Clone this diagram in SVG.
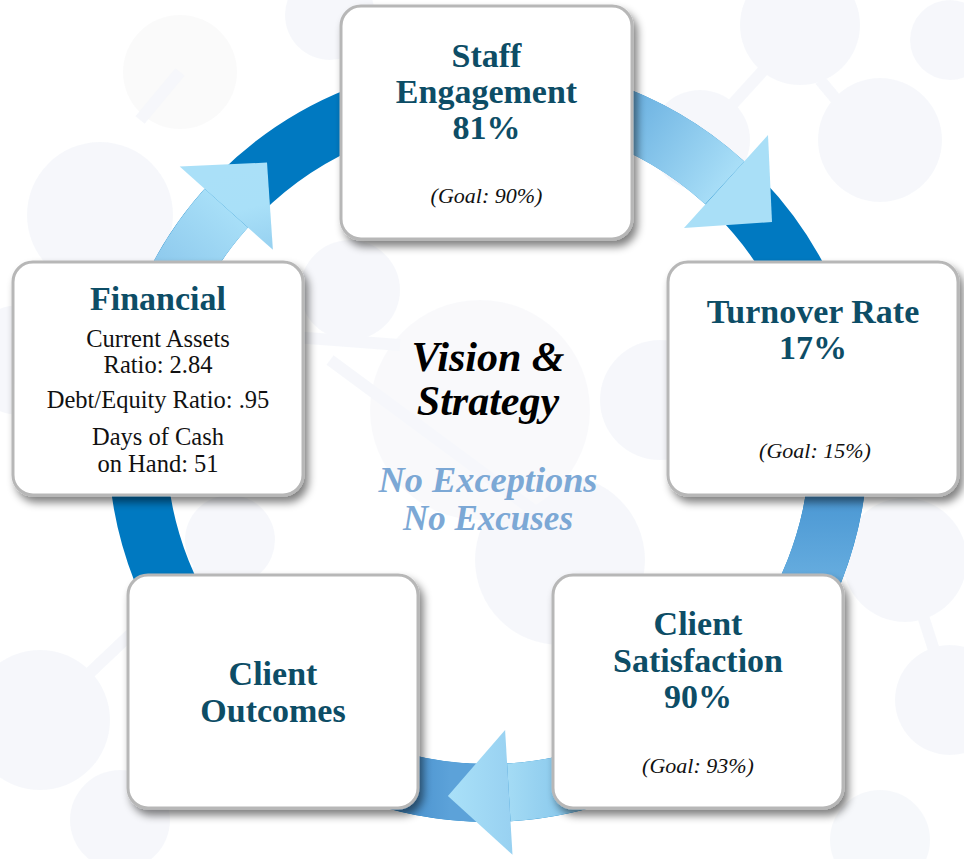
<svg xmlns="http://www.w3.org/2000/svg" width="964" height="859" viewBox="0 0 964 859">
<defs>
<style>
.box{fill:#ffffff;stroke:#b7b7b7;stroke-width:3;filter:url(#sh)}
.ttl{font-family:"Liberation Serif","Times New Roman",serif;font-weight:bold;font-size:34px;fill:#0d4d66;text-anchor:middle}
.body{font-family:"Liberation Serif","Times New Roman",serif;font-size:24.5px;fill:#111;text-anchor:middle}
.goal{font-family:"Liberation Serif","Times New Roman",serif;font-style:italic;font-size:22px;fill:#111;text-anchor:middle}
.vis{font-family:"Liberation Serif","Times New Roman",serif;font-style:italic;font-weight:bold;font-size:42px;fill:#000;text-anchor:middle}
.nox{font-family:"Liberation Serif","Times New Roman",serif;font-style:italic;font-weight:bold;font-size:35px;fill:#7ca8d5;text-anchor:middle}
.bgc{fill:#eef1f8}
.bgl{stroke:#eef1f8;stroke-width:12;fill:none}
.arc{fill:none;stroke-width:58}
</style>
<filter id="sh" x="-10%" y="-10%" width="125%" height="125%">
<feGaussianBlur in="SourceAlpha" stdDeviation="4"/>
<feOffset dx="4" dy="6" result="o"/>
<feComponentTransfer><feFuncA type="linear" slope="0.5"/></feComponentTransfer>
<feMerge><feMergeNode/><feMergeNode in="SourceGraphic"/></feMerge>
</filter>
<linearGradient id="gTL" gradientUnits="userSpaceOnUse" x1="150" y1="300" x2="230" y2="205">
<stop offset="0" stop-color="#84c1e9"/><stop offset="1" stop-color="#a9e0f8"/>
</linearGradient>
<linearGradient id="gTR" gradientUnits="userSpaceOnUse" x1="600" y1="95" x2="726" y2="182">
<stop offset="0" stop-color="#5ea7dc"/><stop offset="1" stop-color="#a8def7"/>
</linearGradient>
<linearGradient id="gR" gradientUnits="userSpaceOnUse" x1="0" y1="495" x2="0" y2="600">
<stop offset="0" stop-color="#4a97d3"/><stop offset="1" stop-color="#6db2e2"/>
</linearGradient>
<linearGradient id="gB" gradientUnits="userSpaceOnUse" x1="560" y1="0" x2="505" y2="0">
<stop offset="0" stop-color="#8ccaed"/><stop offset="1" stop-color="#a5dcf5"/>
</linearGradient>
<linearGradient id="gBL" gradientUnits="userSpaceOnUse" x1="450" y1="0" x2="410" y2="0">
<stop offset="0" stop-color="#5ca2d9"/><stop offset="1" stop-color="#4b93cf"/>
</linearGradient>
<linearGradient id="hTL" gradientUnits="userSpaceOnUse" x1="250" y1="250" x2="230" y2="170">
<stop offset="0" stop-color="#98d2f1"/><stop offset="0.5" stop-color="#a9e0f8"/><stop offset="1" stop-color="#aae0f8"/>
</linearGradient>
<linearGradient id="hB" gradientUnits="userSpaceOnUse" x1="450" y1="0" x2="512" y2="0">
<stop offset="0" stop-color="#a9e0f8"/><stop offset="1" stop-color="#98d1f1"/>
</linearGradient>
</defs>

<rect width="964" height="859" fill="#ffffff"/>

<g id="background" opacity="0.5">
<circle class="bgc" cx="180" cy="72" r="57" style="fill:#f6f6f6"/>
<circle class="bgc" cx="100" cy="215" r="73"/>
<circle class="bgc" cx="20" cy="360" r="55"/>
<circle class="bgc" cx="40" cy="720" r="70"/>
<circle class="bgc" cx="120" cy="820" r="50"/>
<circle class="bgc" cx="330" cy="15" r="45"/>
<circle class="bgc" cx="800" cy="25" r="60"/>
<circle class="bgc" cx="880" cy="140" r="62"/>
<circle class="bgc" cx="950" cy="40" r="40"/>
<circle class="bgc" cx="700" cy="140" r="50"/>
<circle class="bgc" cx="905" cy="560" r="62"/>
<circle class="bgc" cx="950" cy="700" r="55"/>
<circle class="bgc" cx="880" cy="840" r="50"/>
<circle class="bgc" cx="560" cy="560" r="85"/>
<circle class="bgc" cx="660" cy="400" r="60"/>
<circle class="bgc" cx="350" cy="290" r="50"/>
<circle class="bgc" cx="230" cy="540" r="45"/>
<circle class="bgc" cx="480" cy="410" r="110" style="fill:#f4f5f9"/>
<line class="bgl" x1="140" y1="120" x2="180" y2="72"/>
<line class="bgl" x1="330" y1="360" x2="560" y2="530"/>
<line class="bgl" x1="200" y1="330" x2="400" y2="345"/>
<line class="bgl" x1="820" y1="80" x2="870" y2="140"/>
<line class="bgl" x1="700" y1="140" x2="800" y2="30"/>
<line class="bgl" x1="600" y1="620" x2="900" y2="560"/>
<line class="bgl" x1="20" y1="360" x2="100" y2="215"/>
<line class="bgl" x1="40" y1="720" x2="230" y2="540"/>
<line class="bgl" x1="905" y1="560" x2="950" y2="700"/>
</g>

<g id="connectors">
<circle class="arc" cx="488" cy="442" r="351" stroke="#0079c1"/>
<path class="arc" stroke="url(#gBL)" d="M 508.8 792.4 A 351 351 0 0 1 397.2 781.0"/>
<path class="arc" stroke="url(#gTL)" d="M 142.3 381.1 A 351 351 0 0 1 226.3 208.1"/>
<path class="arc" stroke="url(#gTR)" d="M 518.6 92.3 A 351 351 0 0 1 724.7 182.8"/>
<path class="arc" stroke="url(#gR)" d="M 833.7 381.1 A 351 351 0 0 1 736.2 690.2"/>
<path class="arc" stroke="url(#gB)" d="M 736.2 690.2 A 351 351 0 0 1 508.8 792.4"/>
<polygon fill="url(#hTL)" points="179.7,166.4 267,162.6 272.9,249.8"/>
<polygon fill="#a9dff7" points="768,135 772,222 684,228"/>
<polygon fill="url(#hB)" points="505.1,730 447.9,796 512.5,854.8"/>
</g>

<g id="staff">
<rect class="box" x="341" y="6" width="291" height="233" rx="20"/>
<text class="ttl" x="486.5" y="67">Staff</text>
<text class="ttl" x="486.5" y="103">Engagement</text>
<text class="ttl" x="486.5" y="139">81%</text>
<text class="goal" x="486.5" y="203">(Goal: 90%)</text>
</g>

<g id="turnover">
<rect class="box" x="668" y="262" width="290" height="233" rx="20"/>
<text class="ttl" x="813" y="323">Turnover Rate</text>
<text class="ttl" x="813" y="359">17%</text>
<text class="goal" x="815" y="458">(Goal: 15%)</text>
</g>

<g id="satisfaction">
<rect class="box" x="553" y="575" width="290" height="233" rx="20"/>
<text class="ttl" x="698" y="635">Client</text>
<text class="ttl" x="698" y="672">Satisfaction</text>
<text class="ttl" x="698" y="708">90%</text>
<text class="goal" x="698" y="773">(Goal: 93%)</text>
</g>

<g id="outcomes">
<rect class="box" x="128" y="575" width="290" height="233" rx="20"/>
<text class="ttl" x="273" y="685">Client</text>
<text class="ttl" x="273" y="722">Outcomes</text>
</g>

<g id="financial">
<rect class="box" x="13" y="262" width="290" height="233" rx="20"/>
<text class="ttl" x="158" y="310">Financial</text>
<text class="body" x="158" y="347">Current Assets</text>
<text class="body" x="158" y="373">Ratio: 2.84</text>
<text class="body" x="158" y="408">Debt/Equity Ratio: .95</text>
<text class="body" x="158" y="445">Days of Cash</text>
<text class="body" x="158" y="472">on Hand: 51</text>
</g>

<g id="center">
<text class="vis" x="488" y="371">Vision &amp;</text>
<text class="vis" x="488" y="415">Strategy</text>
<text class="nox" x="488" y="492" textLength="219" lengthAdjust="spacingAndGlyphs">No Exceptions</text>
<text class="nox" x="488" y="530" textLength="170" lengthAdjust="spacingAndGlyphs">No Excuses</text>
</g>
</svg>
